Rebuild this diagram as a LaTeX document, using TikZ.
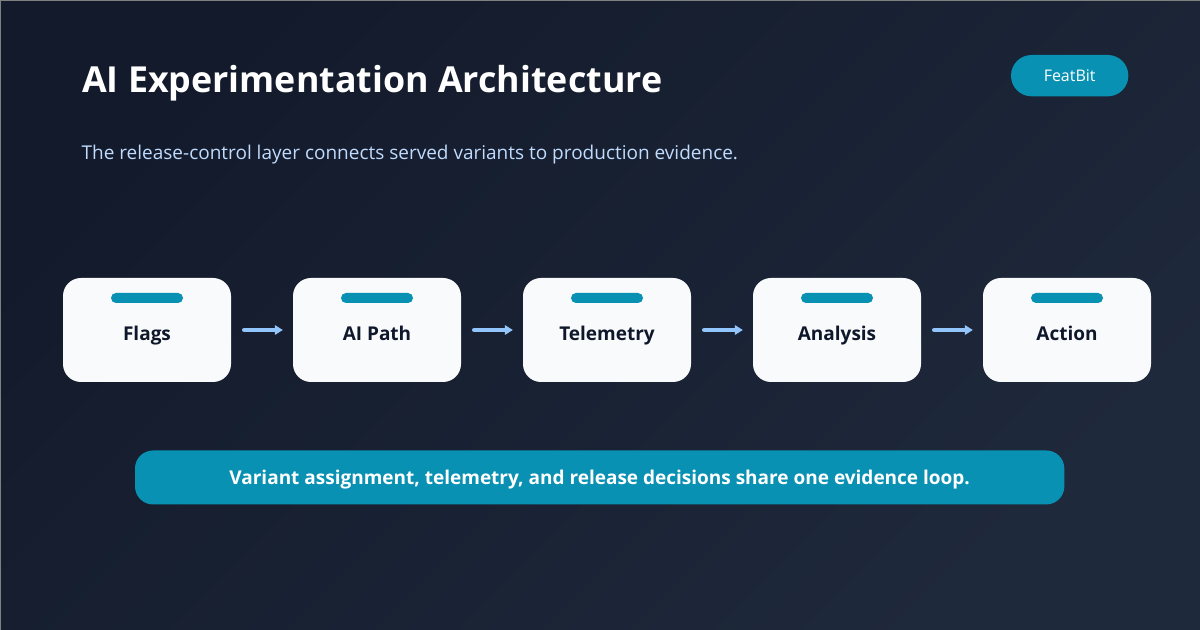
\documentclass[tikz,border=0pt]{standalone}
\usepackage{fontspec}
\setmainfont{Open Sans}
\usetikzlibrary{arrows.meta, positioning}

\definecolor{bgdark}{HTML}{131A2B}
\definecolor{bgmid}{HTML}{1E293B}
\definecolor{teal}{HTML}{0891B2}
\definecolor{cardwhite}{HTML}{F8FAFC}
\definecolor{ink}{HTML}{0F172A}
\definecolor{skyline}{HTML}{93C5FD}
\definecolor{subtext}{HTML}{BFDBFE}

\begin{document}
\begin{tikzpicture}[
  node distance=46.5pt,
  >={Triangle[length=6pt,width=7pt]},
  card/.style={
    rectangle, rounded corners=13.5pt,
    fill=cardwhite,
    minimum width=126pt, minimum height=78pt,
    inner sep=0pt, outer sep=0pt,
    text height=16.5pt, text depth=0pt,
    text=ink, font=\fontsize{14.25}{18}\selectfont\bfseries,
    align=center
  },
  bar/.style={
    rectangle, rounded corners=3.75pt,
    fill=teal,
    minimum width=54pt, minimum height=7.5pt,
    inner sep=0pt, outer sep=0pt
  },
  arrow/.style={->, draw=skyline, line width=3.5pt, line cap=round, shorten <=10pt, shorten >=7.6pt}
]

% background
\shade[left color=bgdark, right color=bgmid, shading angle=45, draw=none] (0,0) rectangle (900pt,-472.5pt);
\useasboundingbox (0,0) rectangle (900pt,-472.5pt);
\draw[gray, line width=.75pt] (.375pt,-472.5pt) -- (.375pt,-.375pt) -- (900pt,-.375pt);

\node[anchor=base west, text=white, inner sep=0pt, font=\fontsize{26.85}{32}\selectfont\bfseries] (title) at (61.5pt,-69.75pt) {AI Experimentation Architecture};

\node[anchor=base west, text=subtext, inner sep=0pt, font=\fontsize{14.25}{18}\selectfont] (subtitle) at (61pt,-119.5pt) {The release-control layer connects served variants to production evidence.};

\node[rectangle, rounded corners=15.4pt, fill=teal, text=white, minimum width=88pt, minimum height=31pt, inner sep=0pt, font=\fontsize{12}{14}\selectfont] (brand) at (802.25pt,-56.75pt) {FeatBit};

\node[card] (flags) at (110.25pt,-247.5pt) {Flags};
\node[card, right=of flags] (aipath) {AI Path};
\node[card, right=of aipath] (telemetry) {Telemetry};
\node[card, right=of telemetry] (analysis) {Analysis};
\node[card, right=of analysis] (action) {Action};

\node[bar, below=11.25pt of flags.north] (flagsbar) {};
\node[bar, below=11.25pt of aipath.north] (aipathbar) {};
\node[bar, below=11.25pt of telemetry.north] (telemetrybar) {};
\node[bar, below=11.25pt of analysis.north] (analysisbar) {};
\node[bar, below=11.25pt of action.north] (actionbar) {};

\draw[arrow] (flags) -- (aipath);
\draw[arrow] (aipath) -- (telemetry);
\draw[arrow] (telemetry) -- (analysis);
\draw[arrow] (analysis) -- (action);

\node[rectangle, rounded corners=13.5pt, fill=teal, text=white, minimum width=697pt, minimum height=40.5pt, inner sep=0pt, text height=10pt, text depth=0pt, font=\fontsize{14.25}{17}\selectfont\bfseries] (note) at (449.75pt,-358.1pt) {Variant assignment, telemetry, and release decisions share one evidence loop.};

\end{tikzpicture}
\end{document}
